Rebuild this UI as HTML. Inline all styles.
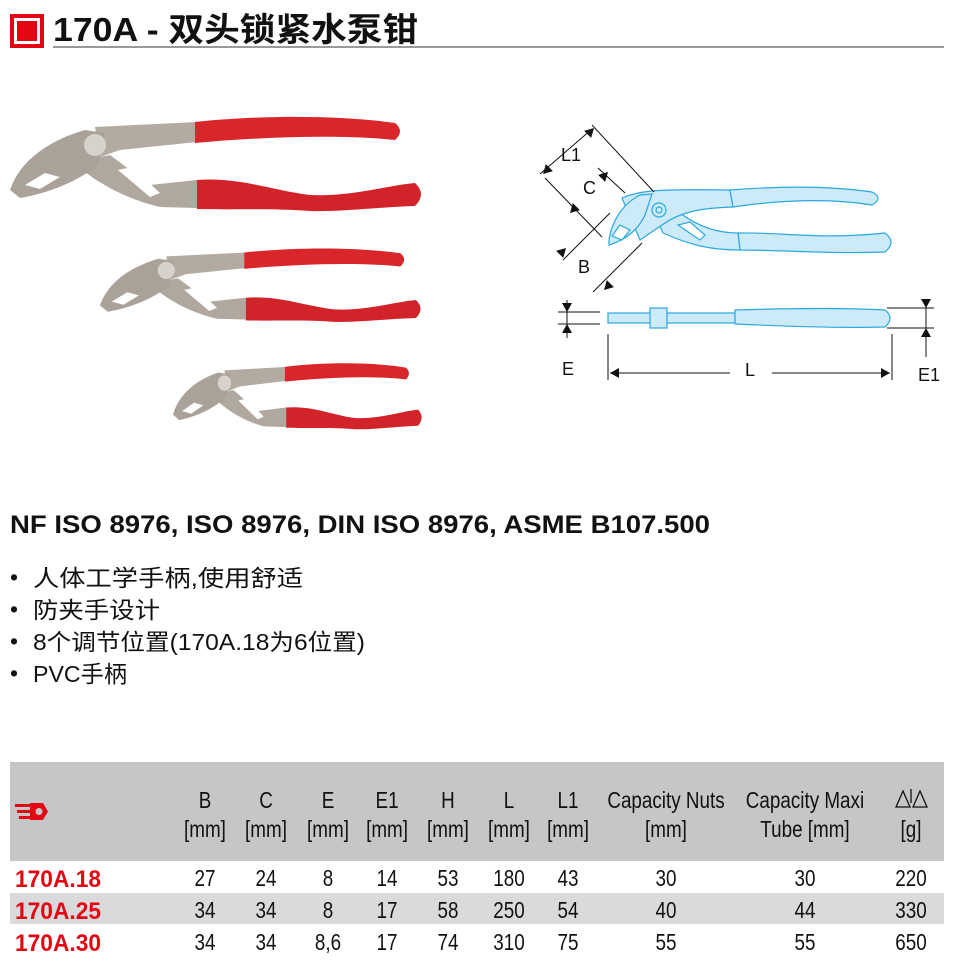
<!DOCTYPE html>
<html><head><meta charset="utf-8"><style>
html,body{margin:0;padding:0;background:#fff;}
svg{display:block;}
.n{font-family:"Liberation Sans Narrow","Liberation Sans",sans-serif;fill:#111;}
.c{font-family:"Liberation Sans","Noto Sans CJK SC",sans-serif;}
</style></head><body>
<svg width="957" height="965" viewBox="0 0 957 965" xmlns="http://www.w3.org/2000/svg">
<defs>
<g id="pl">
  <path d="M85,12 L187,7 L187,27 L110,35 L90,42 Z" fill="#b3aaa2"/>
  <path d="M75,45 L100,40 L140,70 L187,65 L187,93 L150,92 C120,85 95,72 75,57 Z" fill="#b0a79f"/>
  <path d="M108,55 L122,52 L150,78 L140,82 Z" fill="#fff"/>
  <path d="M0,75 C10,45 40,25 75,15 L95,18 L88,50 C70,65 40,78 10,83 Z" fill="#aaa199"/>
  <path d="M15,70 L35,58 L50,62 L30,74 Z" fill="#fff"/>
  <circle cx="85" cy="30" r="11" fill="#d8d2cc"/>
  <path d="M185,7 C250,0 330,0 385,8 Q395,16 385,25 C330,19 250,22 185,28 Z" fill="#d9262b"/>
  <path d="M187,65 C230,62 260,75 300,80 C340,82 380,70 405,68 Q417,79 405,91 C370,92 330,97 300,96 C260,93 230,95 187,94 Z" fill="#d2232a"/>
</g>
<path id="ar" d="M0,0 L-5,-9 L5,-9 Z" fill="#111"/>
</defs>

<!-- title -->
<rect x="10" y="14" width="34" height="34" fill="#e30613"/>
<rect x="14" y="18" width="26" height="26" fill="#fff"/>
<rect x="17" y="21" width="20" height="20" fill="#e30613"/>
<text x="53" y="41" class="c" font-size="33" font-weight="bold" fill="#111" textLength="365" lengthAdjust="spacingAndGlyphs">170A - 双头锁紧水泵钳</text>
<rect x="53" y="46" width="891" height="2" fill="#9a9a9a"/>

<!-- photos -->
<use href="#pl" transform="translate(10,115)"/>
<use href="#pl" transform="translate(100,247) scale(0.78)"/>
<use href="#pl" transform="translate(173,362) scale(0.605,0.7)"/>

<!-- technical drawing -->
<g stroke="#2ba8e0" stroke-width="1.2" fill="#cdeaf8">
  <path d="M738,233 C780,232 820,240 885,233 Q897,242 885,252 C830,254 780,250 740,250 Z"/>
  <path d="M655,215 L680,213 C700,228 720,233 738,233 L740,250 C710,250 690,245 663,233 Z"/>
  <path d="M678,225 L690,222 L705,235 L700,240 Z" fill="#fff"/>
  <path d="M622,198 C640,190 660,189 730,190 L733,207 C700,208 680,212 662,225 L640,240 Z"/>
  <path d="M730,190 C780,186 830,186 872,192 Q884,198 872,205 C830,198 780,200 733,207 Z"/>
  <path d="M609,240 C611,225 620,205 640,195 L652,194 L645,215 C638,230 625,240 609,245 Z"/>
  <path d="M612,236 L620,225 L630,230 L622,240 Z" fill="#fff"/>
  <circle cx="659" cy="210" r="7"/>
  <circle cx="659" cy="210" r="3"/>
  <rect x="608" y="313" width="127" height="10"/>
  <rect x="650" y="308" width="17" height="20"/>
  <path d="M735,310 C800,308 850,308 885,310 Q895,318 885,327 C850,328 800,327 735,324 Z"/>
</g>
<g stroke="#111" stroke-width="1" fill="none">
  <line x1="592" y1="125" x2="654" y2="192"/>
  <line x1="540" y1="174" x2="592" y2="129"/>
  <line x1="545" y1="178" x2="602" y2="237"/>
  <line x1="598" y1="168" x2="625" y2="193"/>
  <line x1="563" y1="260" x2="610" y2="213"/>
  <line x1="593" y1="292" x2="642" y2="243"/>
  <line x1="558" y1="312" x2="600" y2="312"/>
  <line x1="558" y1="324" x2="600" y2="324"/>
  <line x1="567" y1="300" x2="567" y2="338"/>
  <line x1="887" y1="308" x2="934" y2="308"/>
  <line x1="887" y1="328" x2="934" y2="328"/>
  <line x1="926" y1="300" x2="926" y2="357"/>
  <line x1="608" y1="334" x2="608" y2="380"/>
  <line x1="892" y1="334" x2="892" y2="380"/>
  <line x1="610" y1="373" x2="730" y2="373"/>
  <line x1="772" y1="373" x2="890" y2="373"/>
</g>
<use href="#ar" transform="translate(594,128) rotate(-135)"/>
<use href="#ar" transform="translate(543,174) rotate(45)"/>
<use href="#ar" transform="translate(608,172) rotate(-135)"/>
<use href="#ar" transform="translate(570,213) rotate(45)"/>
<use href="#ar" transform="translate(566,248) rotate(-135)"/>
<use href="#ar" transform="translate(604,290) rotate(45)"/>
<use href="#ar" transform="translate(567,312)"/>
<use href="#ar" transform="translate(567,324) rotate(180)"/>
<use href="#ar" transform="translate(926,308)"/>
<use href="#ar" transform="translate(926,328) rotate(180)"/>
<use href="#ar" transform="translate(610,373) rotate(90)"/>
<use href="#ar" transform="translate(890,373) rotate(-90)"/>
<g class="c" font-size="18" fill="#111">
  <text x="561" y="161">L1</text>
  <text x="583" y="194">C</text>
  <text x="578" y="273">B</text>
  <text x="562" y="375">E</text>
  <text x="745" y="376">L</text>
  <text x="918" y="381">E1</text>
</g>

<!-- standards & bullets -->
<text x="10" y="533" class="n" font-size="25" font-weight="bold" textLength="700" lengthAdjust="spacingAndGlyphs">NF ISO 8976, ISO 8976, DIN ISO 8976, ASME B107.500</text>
<g class="c" font-size="23" fill="#111">
  <text x="10" y="585">•</text><text x="33" y="586" textLength="270" lengthAdjust="spacingAndGlyphs">人体工学手柄,使用舒适</text>
  <text x="10" y="617">•</text><text x="33" y="618" textLength="127" lengthAdjust="spacingAndGlyphs">防夹手设计</text>
  <text x="10" y="649">•</text><text x="33" y="650" textLength="332" lengthAdjust="spacingAndGlyphs">8个调节位置(170A.18为6位置)</text>
  <text x="10" y="681">•</text><text x="33" y="682" textLength="94" lengthAdjust="spacingAndGlyphs">PVC手柄</text>
</g>

<!-- table -->
<rect x="10" y="762" width="934" height="99" fill="#c5c6c8"/>
<rect x="10" y="893" width="934" height="31" fill="#d9dadb"/>
<g fill="#e30613">
  <rect x="15" y="804" width="16" height="3"/>
  <rect x="17" y="810" width="14" height="3"/>
  <rect x="19" y="816" width="12" height="3"/>
  <path d="M30,803 L43,803 L48,811.5 L43,820 L30,820 Z"/>
</g>
<circle cx="39" cy="811.5" r="3.5" fill="#c5c6c8"/>
<g transform="scale(0.82,1)">
<g class="n" font-size="23" text-anchor="middle">
  <text x="250" y="808">B</text><text x="324.4" y="808">C</text><text x="400" y="808">E</text><text x="472" y="808">E1</text><text x="546.3" y="808">H</text><text x="620.7" y="808">L</text><text x="692.7" y="808">L1</text>
  <text x="812.2" y="808">Capacity Nuts</text><text x="981.7" y="808">Capacity Maxi</text>
  <text x="250" y="837">[mm]</text><text x="324.4" y="837">[mm]</text><text x="400" y="837">[mm]</text><text x="472" y="837">[mm]</text><text x="546.3" y="837">[mm]</text><text x="620.7" y="837">[mm]</text><text x="692.7" y="837">[mm]</text>
  <text x="812.2" y="837">[mm]</text><text x="981.7" y="837">Tube [mm]</text><text x="1111" y="837">[g]</text>
</g>
<g class="n" font-size="23" text-anchor="middle">
  <text x="250" y="886">27</text><text x="324.4" y="886">24</text><text x="400" y="886">8</text><text x="472" y="886">14</text><text x="546.3" y="886">53</text><text x="620.7" y="886">180</text><text x="692.7" y="886">43</text><text x="812.2" y="886">30</text><text x="981.7" y="886">30</text><text x="1111" y="886">220</text>
  <text x="250" y="918">34</text><text x="324.4" y="918">34</text><text x="400" y="918">8</text><text x="472" y="918">17</text><text x="546.3" y="918">58</text><text x="620.7" y="918">250</text><text x="692.7" y="918">54</text><text x="812.2" y="918">40</text><text x="981.7" y="918">44</text><text x="1111" y="918">330</text>
  <text x="250" y="950">34</text><text x="324.4" y="950">34</text><text x="400" y="950">8,6</text><text x="472" y="950">17</text><text x="546.3" y="950">74</text><text x="620.7" y="950">310</text><text x="692.7" y="950">75</text><text x="812.2" y="950">55</text><text x="981.7" y="950">55</text><text x="1111" y="950">650</text>
</g>
</g>
<g stroke="#111" stroke-width="1.3" fill="none">
  <path d="M896,807 L903,791 L910,807 Z"/><path d="M913,807 L920,791 L927,807 Z"/><line x1="911" y1="789" x2="911" y2="803"/>
</g>
<g class="n" font-size="24" font-weight="bold" style="fill:#e30613">
  <text x="15" y="887" textLength="86" lengthAdjust="spacingAndGlyphs">170A.18</text>
  <text x="15" y="919" textLength="86" lengthAdjust="spacingAndGlyphs">170A.25</text>
  <text x="15" y="951" textLength="86" lengthAdjust="spacingAndGlyphs">170A.30</text>
</g>
</svg>
</body></html>
